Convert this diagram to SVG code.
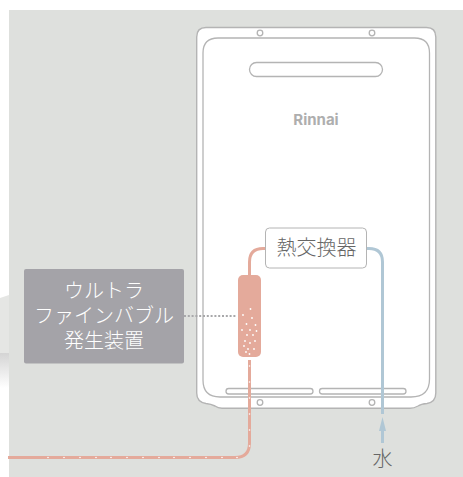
<svg xmlns="http://www.w3.org/2000/svg" width="463" height="477" viewBox="0 0 463 477">
<defs>
<linearGradient id="fade" x1="0" y1="0" x2="0" y2="1"><stop offset="0" stop-color="#d4d4d4"/><stop offset="1" stop-color="#ffffff"/></linearGradient>
</defs>
<style>
.o{fill:none;stroke:#b4b4b4;stroke-width:1.3}
.w{fill:#fff;stroke:#b4b4b4;stroke-width:1.4}
.t{font-family:"Noto Sans CJK JP","Noto Sans",sans-serif;text-anchor:middle;font-weight:300;font-size:20px}
.dot{fill:#fff}
</style>
<rect width="463" height="477" fill="#fff"/>
<rect x="0" y="353" width="9" height="35" fill="url(#fade)"/>
<path d="M0 298 L9 295 L9 353 L0 353Z" fill="#e5e6e4"/>
<rect x="9" y="10" width="454" height="467" fill="#dee0dd"/>
<g id="heater">
<path class="w" d="M206 27.500H426.500Q435.800 27.500 435.800 37V393Q435.800 402 427 403.500Q421 404 418 406Q414 408.300 410 408.300H222Q218 408.300 215 406Q211 404 206 403.500Q196.700 402 196.700 393V37Q196.700 27.500 206 27.500Z"/>
<path class="o" d="M218 38H414.500Q429.500 38 429.500 53V379Q429.500 397 411 397H220Q203 397 203 380V53Q203 38 218 38Z"/>
<circle class="o" cx="260" cy="33" r="2.800"/>
<circle class="o" cx="372" cy="33" r="2.800"/>
<circle class="o" cx="260" cy="402.500" r="2.800"/>
<circle class="o" cx="372" cy="402.500" r="2.800"/>
<rect class="o" x="249.500" y="62.500" width="133" height="14" rx="7"/>
<rect class="o" x="226" y="388.500" width="87" height="5.500" rx="2.700"/>
<rect class="o" x="319.500" y="388.500" width="86.500" height="5.500" rx="2.700"/>
<text x="316" y="124.500" font-family="Inter,'Liberation Sans',sans-serif" font-size="15" font-weight="700" fill="#aeaeae" text-anchor="middle">Rinnai</text>
</g>
<g id="connectors">
<path d="M8 457.500H235Q249.500 457.500 249.500 443V360" fill="none" stroke="#e4aa9b" stroke-width="3"/>
<path d="M249.500 276V262Q249.500 248.500 263 248.500H266" fill="none" stroke="#e4aa9b" stroke-width="3"/>
<path d="M367 248.500H369Q382.500 248.500 382.500 262V414" fill="none" stroke="#b0c7d5" stroke-width="3"/>
<path d="M382.500 443V424" fill="none" stroke="#b0c7d5" stroke-width="3"/>
<path d="M382.500 417L386 431H379Z" fill="#b0c7d5"/>
<path d="M184 316H237" fill="none" stroke="#a8a8aa" stroke-width="2" stroke-dasharray="2 1.800"/>
<g class="dot">
<circle cx="48" cy="457.500" r=".8"/><circle cx="64" cy="457.500" r=".8"/><circle cx="80" cy="457.500" r=".8"/><circle cx="96" cy="457.500" r=".8"/><circle cx="111" cy="457.500" r=".8"/><circle cx="127" cy="457.500" r=".8"/><circle cx="143" cy="457.500" r=".8"/><circle cx="159" cy="457.500" r=".8"/><circle cx="174" cy="457.500" r=".8"/><circle cx="190" cy="457.500" r=".8"/><circle cx="206" cy="457.500" r=".8"/><circle cx="222" cy="457.500" r=".8"/><circle cx="237" cy="457.500" r=".8"/>
<circle cx="249.500" cy="446" r=".8"/><circle cx="249.500" cy="430" r=".8"/><circle cx="249.500" cy="414" r=".8"/><circle cx="249.500" cy="398" r=".8"/><circle cx="249.500" cy="382" r=".8"/><circle cx="249.500" cy="366" r=".8"/>
</g>
</g>
<g id="exchanger">
<rect x="265.500" y="228" width="101" height="40" rx="4" fill="#fff" stroke="#b4b4b4" stroke-width="1"/>
<text class="t" x="316.500" y="255" fill="#666">熱交換器</text>
</g>
<g id="generator">
<rect x="238" y="275" width="23" height="82" rx="5" fill="#e4aa9b"/>
<g class="dot">
<circle cx="250.500" cy="309" r=".9"/><circle cx="243" cy="315" r=".9"/><circle cx="252" cy="318" r=".9"/><circle cx="246.500" cy="324" r=".9"/><circle cx="255.500" cy="325" r=".9"/><circle cx="242" cy="330" r=".9"/><circle cx="250" cy="330" r=".9"/><circle cx="256.500" cy="331" r=".9"/><circle cx="247" cy="335" r=".9"/><circle cx="253" cy="335" r=".9"/><circle cx="245" cy="341" r=".9"/><circle cx="255" cy="341" r=".9"/><circle cx="250" cy="343" r=".9"/><circle cx="244" cy="346" r=".9"/><circle cx="248" cy="349" r=".9"/><circle cx="254" cy="349" r=".9"/><circle cx="246" cy="352" r=".9"/><circle cx="249.500" cy="354" r=".9"/>
</g>
</g>
<g id="label">
<rect x="24" y="269" width="160" height="94.500" rx="2" fill="#a4a3a8"/>
<text class="t" fill="#fff"><tspan x="104" y="298">ウルトラ</tspan><tspan x="104" y="323">ファインバブル</tspan><tspan x="104" y="348">発生装置</tspan></text>
</g>
<g id="water"><text class="t" x="382.500" y="465.500" fill="#666">水</text></g>
</svg>
